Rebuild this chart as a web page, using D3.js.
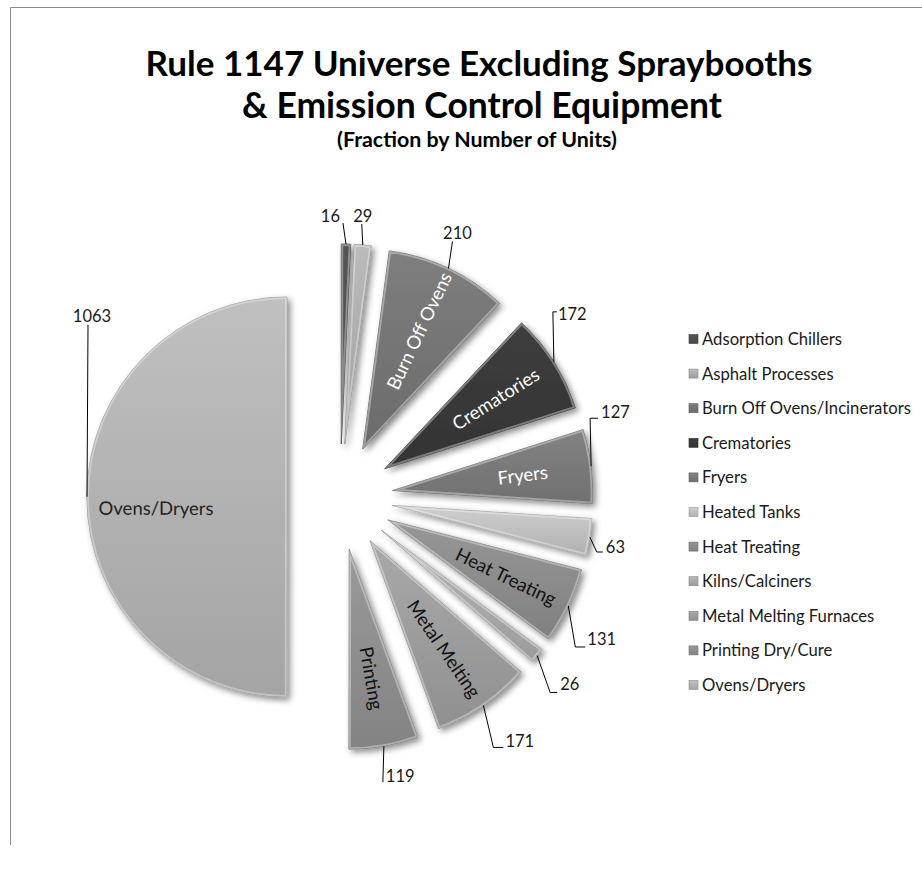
<!DOCTYPE html>
<html><head><meta charset="utf-8">
<script src="https://cdn.jsdelivr.net/npm/d3@7/dist/d3.min.js"></script>
<style>body{margin:0;background:#fff;} svg{display:block;}</style>
</head><body>
<svg id="chart" width="922" height="871"></svg>
<script>
// ---------- data ----------
const categories = ["Adsorption Chillers","Asphalt Processes","Burn Off Ovens/Incinerators","Crematories","Fryers","Heated Tanks","Heat Treating","Kilns/Calciners","Metal Melting Furnaces","Printing Dry/Cure","Ovens/Dryers"];
const units = [16, 29, 210, 172, 127, 63, 131, 26, 171, 119, 1063];
const sliceLabels = ["", "", "Burn Off Ovens", "Crematories", "Fryers", "", "Heat Treating", "", "Metal Melting", "Printing", "Ovens/Dryers"];
const titleLines = ["Rule 1147 Universe Excluding Spraybooths", "& Emission Control Equipment"];
const subtitle = "(Fraction by Number of Units)";

// ---------- styles / layout ----------
const sliceColors = ["#4e4e4e","#ababab","#737373","#383838","#787878","#bdbdbd","#8a8a8a","#a8a8a8","#9b9b9b","#8d8d8d","#b0b0b0"];
const insideTextColors = ["#fff","#fff","#fff","#fff","#fff","#111","#111","#111","#111","#111","#222"];
const insideNudge = [0,0,0,0,0,0,0,0,0,0,11];
// leader layout per value label: bend offset from outer-arc midpoint, horizontal tick, text anchor & offset
const leaderLayout = [
  {bend:[-3,-21], tick:0,  anchor:"end",    tx:-3, ty:-1},
  {bend:[-1,-21], tick:0,  anchor:"middle", tx:1,  ty:-2},
  {bend:[4,-27],  tick:0,  anchor:"middle", tx:5,  ty:-2},
  {bend:[-1,-50], tick:4,  anchor:"start",  tx:1,  ty:8},
  {bend:[-1,-48], tick:8,  anchor:"start",  tx:3,  ty:0},
  {bend:[7,15],   tick:6,  anchor:"start",  tx:3,  ty:1},
  {bend:[7,41],   tick:10, anchor:"start",  tx:2,  ty:-2},
  {bend:[13,37],  tick:7,  anchor:"start",  tx:3,  ty:-3},
  {bend:[10,42],  tick:10, anchor:"start",  tx:2,  ty:0},
  {bend:[-1,36],  tick:0,  anchor:"start",  tx:3,  ty:0},
  {bend:[1,-172], tick:0,  anchor:"middle", tx:4,  ty:-3}
];

const W = 922, H = 871;
const cx = 340, cy = 497, R = 200, explode = 53;
const font = "Lato, 'Open Sans', sans-serif";

const svg = d3.select("#chart");
const defs = svg.append("defs");

// border (top + left visible)
svg.append("path").attr("d", "M10.5,845 V7.5 H922").attr("fill","none").attr("stroke","#8a8a8a").attr("stroke-width",1);

// drop shadow
const f = defs.append("filter").attr("id","shadow").attr("x","-30%").attr("y","-30%").attr("width","160%").attr("height","160%");
f.append("feDropShadow").attr("dx",3).attr("dy",3).attr("stdDeviation",3).attr("flood-color","#000").attr("flood-opacity",0.45);

// gradients
sliceColors.forEach((c,i)=>{
  const g = defs.append("linearGradient").attr("id","grad"+i).attr("x1",0).attr("y1",0).attr("x2",0).attr("y2",1);
  g.append("stop").attr("offset","0%").attr("stop-color", d3.color(c).brighter(0.25));
  g.append("stop").attr("offset","100%").attr("stop-color", d3.color(c).darker(0.2));
});

// ---------- title ----------
function fitText(sel, target){
  const len = sel.node().getComputedTextLength();
  const fs = parseFloat(sel.attr("font-size"));
  sel.attr("font-size", fs*target/len);
}
const t1 = svg.append("text").attr("x",479).attr("y",76).attr("text-anchor","middle")
  .attr("font-family",font).attr("font-weight","bold").attr("font-size",32).attr("fill","#000").text(titleLines[0]);
fitText(t1, 667);
const t2 = svg.append("text").attr("x",482).attr("y",118).attr("text-anchor","middle")
  .attr("font-family",font).attr("font-weight","bold").attr("font-size",32).attr("fill","#000").text(titleLines[1]);
fitText(t2, 480);
const t3 = svg.append("text").attr("x",477).attr("y",147).attr("text-anchor","middle")
  .attr("font-family",font).attr("font-weight","bold").attr("font-size",17).attr("fill","#000").text(subtitle);
fitText(t3, 280);

// ---------- pie ----------
const pie = d3.pie().sort(null).value(d=>d).startAngle(0).endAngle(2*Math.PI);
const arcs = pie(units);
const arcGen = d3.arc().innerRadius(0).outerRadius(R);

const slices = svg.append("g").selectAll("g.slice").data(arcs).enter().append("g")
  .attr("class","slice")
  .attr("transform", d=>{
    const m = (d.startAngle+d.endAngle)/2;
    return `translate(${cx + explode*Math.sin(m)},${cy - explode*Math.cos(m)})`;
  });

slices.each(function(d,i){
  const g = d3.select(this);
  const path = arcGen(d);
  defs.append("clipPath").attr("id","clip"+i).append("path").attr("d",path)
    .attr("transform", g.attr("transform"));
  g.append("path").attr("d",path).attr("fill",`url(#grad${i})`).attr("filter","url(#shadow)")
    .attr("stroke", d3.color(sliceColors[i]).darker(0.5)).attr("stroke-width",0.8);
});
// rim highlight (clipped inner bevel)
const rims = svg.append("g");
arcs.forEach((d,i)=>{
  const m = (d.startAngle+d.endAngle)/2;
  rims.append("g").attr("clip-path",`url(#clip${i})`)
    .append("path").attr("d",arcGen(d))
    .attr("transform",`translate(${cx + explode*Math.sin(m)},${cy - explode*Math.cos(m)})`)
    .attr("fill","none").attr("stroke","#fff").attr("stroke-opacity",0.35).attr("stroke-width",4);
});

// inside labels
slices.each(function(d,i){
  if(!sliceLabels[i]) return;
  const m = (d.startAngle+d.endAngle)/2;
  const rr = R*0.655;
  let rot = m*180/Math.PI - 90;
  if (rot > 90) rot -= 180;
  if (rot < -90) rot += 180;
  d3.select(this).append("text")
    .attr("transform",`translate(${rr*Math.sin(m)},${-rr*Math.cos(m)+insideNudge[i]}) rotate(${rot})`)
    .attr("text-anchor","middle").attr("dominant-baseline","central")
    .attr("font-family",font).attr("font-size",18.5).attr("fill",insideTextColors[i])
    .text(sliceLabels[i]);
});

// value labels with leader lines
const lbl = svg.append("g");
arcs.forEach((d,i)=>{
  const m = (d.startAngle+d.endAngle)/2;
  const px = cx + (explode+R)*Math.sin(m), py = cy - (explode+R)*Math.cos(m);
  const L = leaderLayout[i];
  const bx = px + L.bend[0], by = py + L.bend[1];
  const ex = bx + L.tick, ey = by;
  lbl.append("path").attr("d", d3.line()([[px,py],[bx,by],[ex,ey]]))
    .attr("fill","none").attr("stroke","#000").attr("stroke-width",1);
  lbl.append("text").attr("x", ex + L.tx).attr("y", ey + L.ty)
    .attr("text-anchor", L.anchor).attr("font-family",font).attr("font-size",16.5).attr("fill","#1a1a1a")
    .text(d3.format("d")(units[i]));
});

// ---------- legend ----------
const legend = svg.append("g").attr("transform","translate(689,339)");
const rowH = 34.6;
const items = legend.selectAll("g").data(categories).enter().append("g")
  .attr("transform",(d,i)=>`translate(0,${i*rowH})`);
items.append("rect").attr("x",0).attr("y",-4.5).attr("width",9).attr("height",9)
  .attr("fill",(d,i)=>`url(#grad${i})`).attr("stroke",(d,i)=>d3.color(sliceColors[i]).darker(0.6)).attr("stroke-width",0.6);
const legTexts = items.append("text").attr("x",13).attr("y",0).attr("dominant-baseline","central")
  .attr("font-family",font).attr("font-size",16).attr("fill","#1a1a1a").text(d=>d);
// fit legend font so the longest entry spans its observed width
const longest = legTexts.filter(d=>d==="Burn Off Ovens/Incinerators").node().getComputedTextLength();
legTexts.attr("font-size", 16*209/longest);
</script>
</body></html>
